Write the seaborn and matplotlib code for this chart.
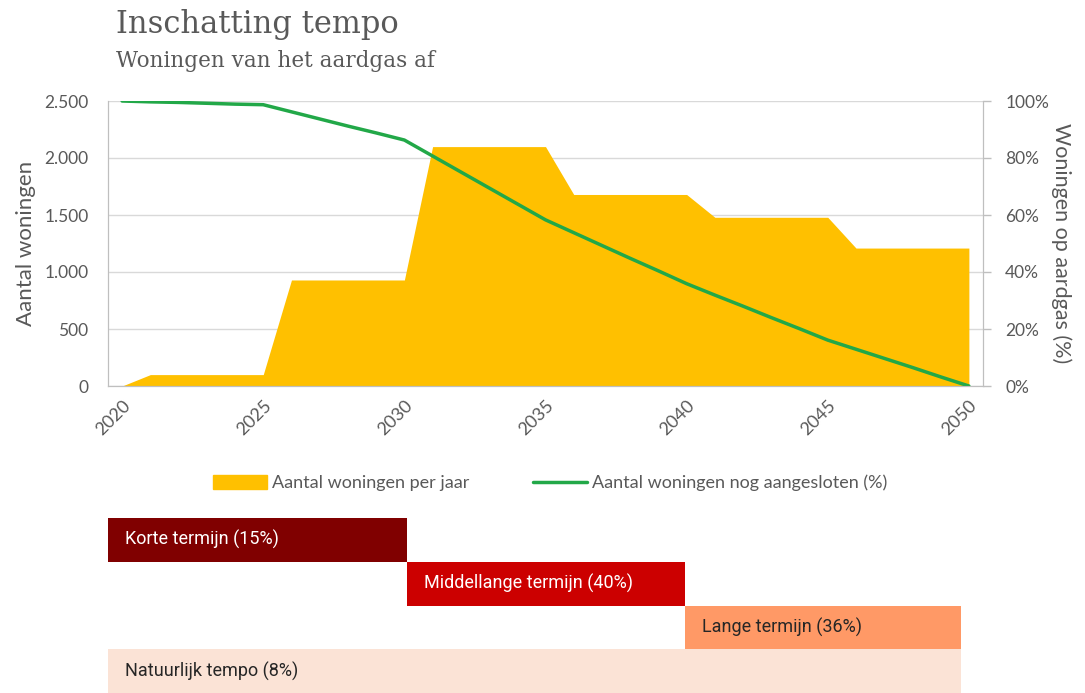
import numpy as np
import pandas as pd
import matplotlib.pyplot as plt
import matplotlib.patches as mpatches
import matplotlib.lines as mlines
from matplotlib.ticker import FuncFormatter, PercentFormatter
import seaborn as sns

# Data
years = list(range(2020, 2051))
per_year = [0, 100, 100, 100, 100, 100,
            930, 930, 930, 930, 930,
            2100, 2100, 2100, 2100, 2100,
            1680, 1680, 1680, 1680, 1680,
            1480, 1480, 1480, 1480, 1480,
            1210, 1210, 1210, 1210, 1210]
pct_connected = [100, 99.7, 99.5, 99.2, 98.9, 98.7,
                 96.2, 93.7, 91.2, 88.8, 86.3,
                 80.7, 75.1, 69.5, 63.9, 58.3,
                 53.8, 49.3, 44.8, 40.4, 35.9,
                 31.9, 28.0, 24.0, 20.1, 16.1,
                 12.9, 9.7, 6.5, 3.2, 0]

periods = ['Korte termijn (15%)', 'Middellange termijn (40%)',
           'Lange termijn (36%)', 'Natuurlijk tempo (8%)']
period_start = [2019.5, 2030.1, 2039.95, 2019.5]
period_end = [2030.1, 2039.95, 2049.72, 2049.72]
period_colors = ['#800000', '#cc0000', '#ff9966', '#fbe3d6']
period_text = ['white', 'white', '#262626', '#262626']

df = pd.DataFrame({'jaar': years, 'woningen': per_year,
                   'aangesloten': np.array(pct_connected) / 100})

sns.set_style('white')
plt.rcParams['font.family'] = ['Lato', 'DejaVu Sans']
grey = '#595959'

fig = plt.figure(figsize=(10.85, 6.93), dpi=100)
ax = fig.add_axes([108 / 1085, 1 - 386 / 693, 875 / 1085, 285 / 693])

# area of houses per year
ax.fill_between(df['jaar'], df['woningen'], color='#ffc000', lw=0, zorder=2)
ax.set_xlim(2019.5, 2050.5)
ax.set_ylim(0, 2500)
ax.set_yticks(range(0, 2501, 500))
ax.yaxis.set_major_formatter(FuncFormatter(lambda v, p: f'{int(v):,}'.replace(',', '.')))
ax.set_xticks(range(2020, 2051, 5))
ax.grid(axis='y', color='#d9d9d9', lw=1, zorder=0)
ax.set_axisbelow(True)
ax.spines['top'].set_visible(False)
for s in ['left', 'bottom', 'right']:
    ax.spines[s].set_color('#bfbfbf')
ax.tick_params(axis='y', colors=grey, labelsize=12.5, length=0, pad=14)
ax.tick_params(axis='x', colors=grey, labelsize=13, length=0, pad=8)
for lab in ax.get_xticklabels():
    lab.set_rotation(45)
    lab.set_ha('right')
    lab.set_rotation_mode('anchor')
ax.set_xlabel('')
ax.set_ylabel('Aantal woningen', color=grey, fontsize=16, labelpad=6)

# percentage still connected
ax2 = ax.twinx()
sns.lineplot(data=df, x='jaar', y='aangesloten', ax=ax2, color='#22a848', lw=2.5)
ax2.set_ylim(0, 1)
ax2.set_yticks(np.arange(0, 1.01, 0.2))
ax2.yaxis.set_major_formatter(PercentFormatter(1, decimals=0))
ax2.tick_params(axis='y', labelcolor=grey, color='#bfbfbf', labelsize=12.5,
                length=6, width=1, pad=10)
ax2.spines['top'].set_visible(False)
for s in ['left', 'bottom', 'right']:
    ax2.spines[s].set_color('#bfbfbf')
ax2.set_xlabel('')
ax2.set_ylabel('Woningen op aardgas (%)', color=grey, fontsize=15.5, rotation=-90, labelpad=16)

fig.text(116 / 1085, 1 - 33 / 693, 'Inschatting tempo', family='DejaVu Serif',
         fontsize=22, color=grey, va='baseline')
fig.text(116 / 1085, 1 - 67 / 693, 'Woningen van het aardgas af', family='DejaVu Serif',
         fontsize=15.5, color=grey, va='baseline')

handles = [mpatches.Patch(color='#ffc000', label='Aantal woningen per jaar'),
           mlines.Line2D([], [], color='#22a848', lw=2.5,
                         label='Aantal woningen nog aangesloten (%)')]
leg = fig.legend(handles=handles, loc='center', bbox_to_anchor=(550 / 1085, 1 - 483 / 693),
                 ncol=2, frameon=False, fontsize=13, handlelength=3.0, handleheight=0.8,
                 columnspacing=3.5, handletextpad=0.3)
for t in leg.get_texts():
    t.set_color(grey)

# period bars
axb = fig.add_axes([108 / 1085, 0.0, 875 / 1085, 175 / 693])
for i, name in enumerate(periods):
    axb.barh(i, period_end[i] - period_start[i], left=period_start[i], height=1,
             color=period_colors[i], lw=0)
    axb.text(period_start[i] + 0.6, i, name, color=period_text[i], fontsize=13,
             family=['Roboto', 'DejaVu Sans'], va='center', ha='left')
axb.set_xlim(2019.5, 2050.5)
axb.set_ylim(3.5, -0.5)
axb.axis('off')

fig.savefig('out.png', dpi=100)
